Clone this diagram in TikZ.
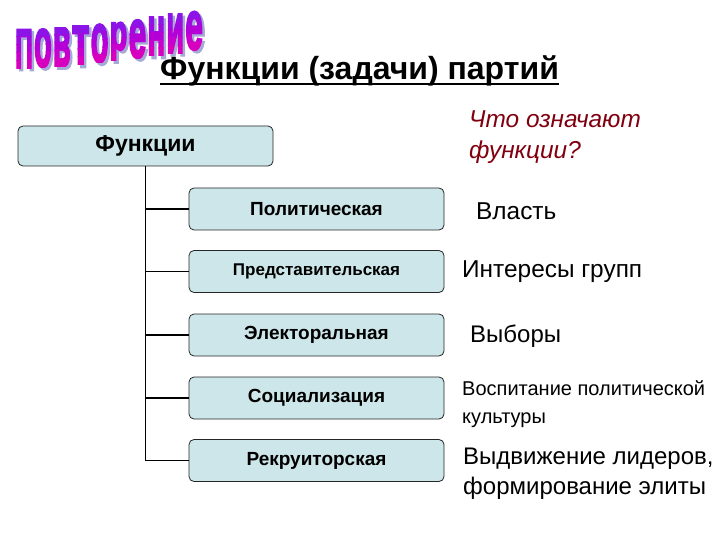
\documentclass[tikz,border=0pt]{standalone}
\usepackage{fontspec}
\setmainfont{Liberation Sans}
\newfontfamily\wafont[FakeBold=4]{Liberation Sans Bold}
\definecolor{boxfill}{RGB}{204,230,233}
\definecolor{qred}{RGB}{128,0,16}
\definecolor{wshadow}{RGB}{165,170,215}
\definecolor{wa0}{RGB}{140,20,230}
\definecolor{wa1}{RGB}{160,10,225}
\definecolor{wa2}{RGB}{180,0,215}
\definecolor{wa3}{RGB}{200,0,205}
\definecolor{wa4}{RGB}{215,0,190}
\tikzset{
  fbox/.style={draw=black!85, line width=0.8pt, fill=boxfill, rounded corners=5pt,
    minimum width=255pt, minimum height=42pt, inner sep=0pt, font=\bfseries\fontsize{19}{22}\selectfont},
  conn/.style={draw=black, line width=1.8pt},
  rtext/.style={anchor=west, inner sep=0pt, align=left, text=black},
  wletter/.style={anchor=south, inner sep=0pt, font=\wafont}
}
\newcommand{\wl}[1]{\resizebox*{17.5pt}{38pt}{#1}}
\begin{document}
\begin{tikzpicture}[x=1pt,y=-1pt]
\useasboundingbox (0,0) rectangle (720,540);
\fill[white] (0,0) rectangle (720,540);
% WordArt title
\foreach \ch [count=\i from 0] in {П,о,в,т,о,р,е,н,и,е} {
  \pgfmathsetmacro\xx{24+18.9*\i}
  \pgfmathsetmacro\yy{68-18*(\i/9)^1.5}
  \begin{scope}[shift={(\xx,\yy)}]
    \node[wletter, text=wshadow] (ws\i) at (2.5,2.5) {\wl{\ch}};
    \foreach \b in {0,...,4} {
      \begin{scope}
        \clip (-14,-39+\b*7.8) rectangle (14,-39+\b*7.8+8);
        \node[wletter, text=wa\b] (w\i-\b) at (0,0) {\wl{\ch}};
      \end{scope}
    }
  \end{scope}
}
% Title
\node[anchor=base west, inner sep=0pt, font=\bfseries\fontsize{32}{34}\selectfont] (title) at (160,80) {Функции (задачи) партий};
\draw[line width=1.8pt] ([yshift=-4pt]title.base west) -- ([yshift=-4pt]title.base east);
% Boxes
\node[fbox, minimum height=40pt, font=\bfseries\fontsize{23}{26}\selectfont] (top) at (145.5,146) {Функции};
\node[fbox] (c1) at (316.5,209) {Политическая};
\node[fbox, font=\bfseries\fontsize{17}{20}\selectfont] (c2) at (316.5,271.5) {Представительская};
\node[fbox] (c3) at (316.5,335) {Электоральная};
\node[fbox] (c4) at (316.5,398) {Социализация};
\node[fbox] (c5) at (316.5,460.5) {Рекруиторская};
\foreach \c in {c1,c2,c3,c4,c5} \draw[conn] (top.south) |- (\c.west);
% Right-hand texts
\node[rtext, text=qred, font=\itshape\fontsize{24.4}{31}\selectfont] (q) at (469,137) {Что означают\\функции?};
\node[rtext, font=\fontsize{24.4}{28}\selectfont] (r1) at (476,211) {Власть};
\node[rtext, font=\fontsize{24.4}{28}\selectfont] (r2) at (462,272) {Интересы групп};
\node[rtext, font=\fontsize{24}{28}\selectfont] (r3) at (470,336) {Выборы};
\node[rtext, font=\fontsize{20}{28}\selectfont] (r4) at (462,404) {Воспитание политической\\культуры};
\node[rtext, font=\fontsize{24}{30}\selectfont] (r5) at (463,474) {Выдвижение лидеров,\\формирование элиты};
\end{tikzpicture}
\end{document}
